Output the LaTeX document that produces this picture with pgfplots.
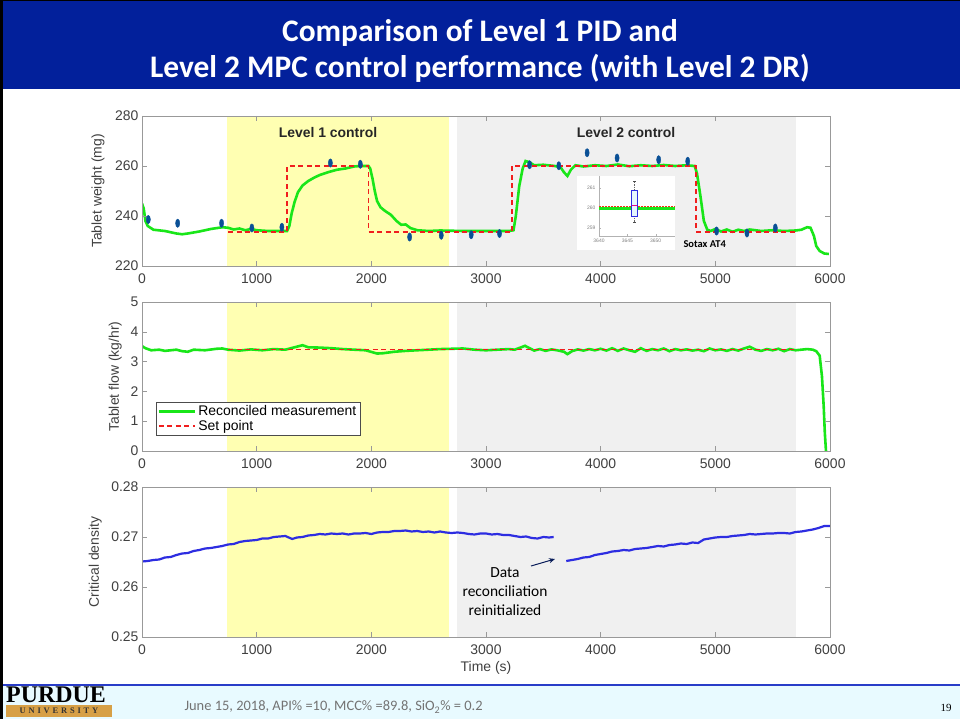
\documentclass[border=0pt]{standalone}
\usepackage{fontspec}
\setmainfont{Liberation Sans}
\newfontfamily\calibri{Carlito}
\newfontfamily\serifft{Liberation Serif}
\usepackage{pgfplots}
\pgfplotsset{compat=1.18}
\usetikzlibrary{arrows.meta}
\definecolor{titleblue}{RGB}{2,32,155}
\definecolor{shadeY}{RGB}{255,255,178}
\definecolor{shadeG}{RGB}{240,240,240}
\definecolor{mgreen}{RGB}{25,230,25}
\definecolor{mred}{RGB}{240,30,30}
\definecolor{mblue}{RGB}{45,45,225}
\definecolor{mdot}{RGB}{10,80,150}
\definecolor{footbg}{RGB}{232,250,255}
\definecolor{footline}{RGB}{40,60,200}
\definecolor{gold}{RGB}{215,160,70}
\definecolor{navy}{RGB}{10,30,90}
\pgfplotsset{mstyle/.style={scale only axis, width=688bp, xmin=0, xmax=6000,
  xtick={0,1000,...,6000}, axis on top,
  axis line style={draw=black!40, line width=0.6bp},
  tick style={draw=black!40, line width=0.6bp},
  major tick length=5bp,
  tick label style={font=\fontsize{14}{16}\selectfont, text=black!75},
  label style={font=\fontsize{14}{16}\selectfont, text=black!75},
  xticklabel style={yshift=-4.5bp},
  /pgf/number format/assume math mode=true,
  /pgf/number format/1000 sep={},
  scaled ticks=false}}
\begin{document}
\begin{tikzpicture}
\useasboundingbox (0,0) rectangle (960bp,719bp);
\fill[white] (0,0) rectangle (960bp,719bp);
% title bar
\fill[titleblue] (0,630bp) rectangle (960bp,719bp);
\node[anchor=base, text=white, font=\calibri\bfseries\fontsize{31.5}{36}\selectfont] at (480bp,677bp) {Comparison of Level 1 PID and};
\node[anchor=base, text=white, font=\calibri\bfseries\fontsize{31.5}{36}\selectfont] at (480bp,641bp) {Level 2 MPC control performance (with Level 2 DR)};
% footer
\fill[footbg] (0,0) rectangle (960bp,34bp);
\draw[footline, line width=1.2bp] (0,34bp) -- (960bp,34bp);
\node[anchor=west, text=black!55, font=\calibri\fontsize{14.5}{16}\selectfont] at (181bp,12bp) {June 15, 2018, API\% =10, MCC\% =89.8, SiO\textsubscript{2}\% = 0.2};
\node[anchor=center, text=black, font=\serifft\fontsize{11}{12}\selectfont] at (946bp,11bp) {19};
\fill[gold] (6bp,2bp) rectangle (112bp,14bp);
\node[anchor=center, text=black!80, font=\serifft\bfseries\fontsize{8.5}{9}\selectfont] at (59bp,8bp) {U\,\,N\,\,I\,\,V\,\,E\,\,R\,\,S\,\,I\,\,T\,\,Y};
\node[anchor=base west, inner sep=0, text=black, font=\serifft\bfseries\fontsize{24}{24}\selectfont] at (6bp,17bp) {PURDUE};
\fill[black] (0,0) rectangle (2.5bp,719bp);
\fill[black] (0,717.5bp) rectangle (960bp,719bp);

% ---------------- plot 1 ----------------
\begin{axis}[mstyle, at={(142bp,453bp)}, anchor=south west, height=150bp,
  ymin=220, ymax=280, ytick={220,240,260,280},
  ylabel={Tablet weight (mg)},
  ylabel style={at={(axis description cs:-0.064,0.5)}, anchor=center}]
\addplot[fill=shadeY, draw=none, forget plot] coordinates {(745,220)(745,280)(2675,280)(2675,220)} -- cycle;
\addplot[fill=shadeG, draw=none, forget plot] coordinates {(2745,220)(2745,280)(5705,280)(5705,220)} -- cycle;
\addplot[color=mgreen, line width=2.6bp] coordinates {
(0,245)(15,243)(30,238)(50,236)(100,234.5)(200,234)(300,233)(350,232.7)(400,233)
(500,233.8)(600,234.8)(700,235.5)(750,235.3)(800,234.6)(850,235)(900,234.3)(950,234.8)
(1000,234.3)(1100,234)(1200,234)(1265,234)(1285,236)(1305,241)(1330,245.5)(1360,249.5)
(1400,252.2)(1450,254)(1500,255.3)(1550,256.4)(1629,257.6)(1700,258.5)(1774,259)(1850,259.8)
(1900,260)(1975,260)(1990,259)(2010,255)(2030,250)(2050,246)(2080,243.5)(2120,242)
(2170,240.5)(2220,238)(2260,236.5)(2300,236.6)(2340,235.2)(2400,234.3)(2500,234)(2600,234.2)
(2800,234)(3000,234)(3200,234)(3240,234.3)(3260,240)(3290,252)(3320,259)(3345,262)
(3380,261.5)(3420,260.3)(3500,260.5)(3600,260)(3650,259.5)(3680,257.5)(3710,256)
(3740,258.5)(3780,260.3)(3850,259.8)(3950,260.3)(4050,260)(4150,260.6)(4250,259.9)
(4350,260.3)(4450,260)(4550,260.4)(4650,260)(4750,260.3)(4820,260)(4840,257)
(4870,248)(4900,238)(4930,234.5)(4960,234)(5000,234.8)(5050,233.8)(5100,234.6)
(5150,233.7)(5200,234.5)(5250,234)(5300,234.6)(5400,234)(5500,234.3)(5600,234)
(5700,234.2)(5750,234.5)(5800,235.5)(5830,235.3)(5860,232)(5880,228)(5910,226)
(5950,225)(5990,224.8)};
\addplot[color=mred, line width=1.6bp, dash pattern=on 5bp off 3.5bp] coordinates {
(750,233.7)(1265,233.7)(1265,260)(1975,260)(1975,233.7)(3225,233.7)(3225,260)
(4830,260)(4830,233.7)(5705,233.7)};
\addplot[only marks, mark=*, color=mdot, mark size=2.1bp, mark options={yscale=2}] coordinates {
(55,238.6)(311,237.1)(694,237.1)(958,235.2)(1220,235.5)(1643,261.2)(1904,260.7)
(2334,231.6)(2610,232.3)(2871,232.5)(3118,233.0)(3380,260.5)(3635,260.1)(3882,265.3)
(4143,263.2)(4506,262.5)(4759,261.9)(5011,234.0)(5276,233.2)(5523,235.2)};
\node[font=\bfseries\fontsize{14}{16}\selectfont, text=black!85] at (axis cs:1622,273.2) {Level 1 control};
\node[font=\bfseries\fontsize{14}{16}\selectfont, text=black!85] at (axis cs:4221,273.2) {Level 2 control};
\end{axis}
% inset
\fill[white] (577bp,469bp) rectangle (675bp,543bp);
\begin{axis}[at={(599bp,483bp)}, anchor=south west, scale only axis, width=76bp, height=60bp,
  xmin=3640, xmax=3653.4, ymin=258.6, ymax=261.6, xtick={3640,3645,3650}, ytick={259,260,261},
  axis lines*=left, axis line style={draw=black!30, line width=0.4bp},
  tick style={draw=black!30, line width=0.4bp}, major tick length=1.5bp,
  tick label style={font=\fontsize{5}{6}\selectfont, text=black!50},
  /pgf/number format/1000 sep={}, /pgf/number format/assume math mode=true]
\addplot[color=mgreen, line width=2.4bp] coordinates {(3640,259.97)(3653.4,259.97)};
\addplot[color=mred!80!orange, line width=0.8bp, dash pattern=on 1.5bp off 1.5bp] coordinates {(3640,260.07)(3653.4,260.07)};
\addplot[black!60, line width=0.4bp, dash pattern=on 1bp off 0.8bp] coordinates {(3646.25,260.9)(3646.25,261.33)};
\addplot[black!60, line width=0.4bp, dash pattern=on 1bp off 0.8bp] coordinates {(3646.25,259.6)(3646.25,259.3)};
\addplot[black!70, line width=0.6bp] coordinates {(3646.05,261.33)(3646.45,261.33)};
\addplot[black!70, line width=0.6bp] coordinates {(3646.05,259.3)(3646.45,259.3)};
\addplot[draw=mblue, fill=cyan!10, line width=0.7bp] coordinates {(3645.78,259.6)(3646.72,259.6)(3646.72,260.9)(3645.78,260.9)} -- cycle;
\addplot[color=magenta, line width=1bp] coordinates {(3645.78,260.13)(3646.72,260.13)};
\end{axis}
\node[anchor=west, font=\calibri\bfseries\fontsize{10.5}{12}\selectfont] at (680bp,475bp) {Sotax AT4};

% ---------------- plot 2 ----------------
\begin{axis}[mstyle, at={(142bp,268bp)}, anchor=south west, height=149bp,
  ymin=0, ymax=5, ytick={0,1,2,3,4,5},
  ylabel={Tablet flow (kg/hr)},
  ylabel style={at={(axis description cs:-0.039,0.5)}, anchor=center},
  legend style={at={(0.0203,0.329)}, anchor=north west, draw=black!70, fill=white,
    font=\fontsize{14}{15}\selectfont, inner sep=1.5bp, row sep=-1bp},
  legend image code/.code={\draw[#1] (0bp,0bp) -- (36bp,0bp);},
  legend cell align=left]
\addplot[fill=shadeY, draw=none, forget plot] coordinates {(745,0)(745,5)(2675,5)(2675,0)} -- cycle;
\addplot[fill=shadeG, draw=none, forget plot] coordinates {(2745,0)(2745,5)(5705,5)(5705,0)} -- cycle;
\addplot[color=mgreen, line width=2.6bp] coordinates {
(0,3.52)(30,3.45)(80,3.38)(150,3.4)(200,3.36)(300,3.4)(350,3.35)(400,3.33)(450,3.4)
(550,3.38)(650,3.43)(700,3.44)(750,3.4)(850,3.37)(950,3.41)(1050,3.38)(1150,3.42)
(1250,3.4)(1350,3.5)(1400,3.55)(1450,3.48)(1550,3.47)(1650,3.45)(1750,3.42)(1850,3.4)
(1950,3.38)(2050,3.27)(2100,3.28)(2200,3.33)(2300,3.36)(2400,3.38)(2500,3.4)(2600,3.42)
(2700,3.43)(2800,3.44)(2900,3.4)(3000,3.38)(3100,3.4)(3200,3.42)(3250,3.4)(3300,3.47)
(3340,3.53)(3380,3.45)(3420,3.37)(3470,3.42)(3520,3.36)(3570,3.41)(3620,3.38)(3680,3.33)
(3710,3.25)(3750,3.35)(3800,3.41)(3850,3.37)(3900,3.42)(3950,3.38)(4000,3.43)(4050,3.37)
(4100,3.45)(4150,3.36)(4200,3.44)(4250,3.38)(4300,3.33)(4350,3.45)(4400,3.36)(4450,3.42)
(4500,3.38)(4550,3.44)(4600,3.35)(4650,3.42)(4700,3.38)(4750,3.41)(4800,3.37)(4850,3.4)
(4900,3.35)(4950,3.44)(5000,3.38)(5050,3.41)(5100,3.36)(5150,3.42)(5200,3.37)(5250,3.44)
(5300,3.5)(5350,3.4)(5400,3.36)(5450,3.42)(5500,3.38)(5550,3.43)(5600,3.35)(5650,3.42)
(5700,3.38)(5750,3.4)(5800,3.42)(5850,3.4)(5880,3.35)(5910,3.2)(5930,2.5)(5945,1.5)
(5955,0.6)(5965,0)};
\addlegendentry{Reconciled measurement}
\addplot[color=mred, line width=1.6bp, dash pattern=on 5bp off 3.5bp] coordinates {(750,3.4)(5705,3.4)};
\addlegendentry{Set point}
\end{axis}

% ---------------- plot 3 ----------------
\begin{axis}[mstyle, at={(142bp,82bp)}, anchor=south west, height=150bp,
  ymin=0.25, ymax=0.28, ytick={0.25,0.26,0.27,0.28},
  yticklabel style={/pgf/number format/.cd, fixed, precision=2, fixed zerofill},
  ylabel={Critical density},
  ylabel style={at={(axis description cs:-0.068,0.5)}, anchor=center},
  xlabel={Time (s)},
  xlabel style={at={(axis description cs:0.5,-0.207)}, anchor=center}]
\addplot[fill=shadeY, draw=none, forget plot] coordinates {(745,0.25)(745,0.28)(2675,0.28)(2675,0.25)} -- cycle;
\addplot[fill=shadeG, draw=none, forget plot] coordinates {(2745,0.25)(2745,0.28)(5705,0.28)(5705,0.25)} -- cycle;
\addplot[color=mblue, line width=2.2bp] coordinates {
(0,.2651)(50,.2652)(100,.2654)(150,.2655)(200,.2659)(250,.2660)(300,.2664)(350,.2667)
(400,.2668)(450,.2672)(500,.2674)(550,.2677)(600,.2678)(650,.2680)(700,.2682)(750,.2685)
(800,.2686)(850,.2690)(900,.2692)(950,.2693)(1000,.2694)(1050,.2697)(1100,.2697)
(1150,.2700)(1200,.2701)(1250,.2702)(1280,.2699)(1310,.2696)(1350,.2699)(1400,.2700)
(1450,.2703)(1500,.2704)(1550,.2706)(1600,.2705)(1650,.2707)(1700,.2706)(1750,.2707)
(1800,.2705)(1850,.2707)(1900,.2707)(1950,.2708)(2000,.2706)(2050,.2709)(2100,.2710)
(2150,.2710)(2200,.2712)(2250,.2712)(2300,.2713)(2350,.2711)(2400,.2712)(2450,.2710)
(2500,.2711)(2550,.2709)(2600,.2711)(2650,.2709)(2700,.2708)(2750,.2709)(2800,.2708)
(2850,.2706)(2900,.2705)(2950,.2707)(3000,.2707)(3050,.2705)(3100,.2706)(3150,.2704)
(3200,.2704)(3250,.2702)(3300,.2700)(3350,.2701)(3400,.2698)(3450,.2697)(3500,.2700)
(3550,.2699)(3590,.2700)};
\addplot[color=mblue, line width=2.2bp] coordinates {
(3700,.2652)(3750,.2654)(3800,.2656)(3850,.2659)(3900,.2660)(3950,.2664)(4000,.2666)
(4050,.2668)(4100,.2671)(4150,.2672)(4200,.2674)(4250,.2673)(4300,.2676)(4350,.2677)
(4400,.2678)(4450,.2680)(4500,.2682)(4550,.2681)(4600,.2684)(4650,.2685)(4700,.2687)
(4750,.2686)(4800,.2689)(4850,.2688)(4900,.2695)(4950,.2697)(5000,.2699)(5050,.2700)
(5100,.2700)(5150,.2702)(5200,.2703)(5250,.2704)(5300,.2706)(5350,.2705)(5400,.2706)
(5450,.2707)(5500,.2707)(5550,.2708)(5600,.2708)(5650,.2707)(5700,.2710)(5750,.2711)
(5800,.2713)(5850,.2715)(5900,.2718)(5950,.2722)(6000,.2722)};
\end{axis}
\node[align=center, font=\calibri\fontsize{15.5}{19}\selectfont, text=black] at (505bp,127bp) {Data\\reconciliation\\reinitialized};
\draw[navy, line width=1bp, -{Stealth[length=6bp,width=5bp]}] (531bp,153bp) -- (555bp,160bp);
\end{tikzpicture}
\end{document}
